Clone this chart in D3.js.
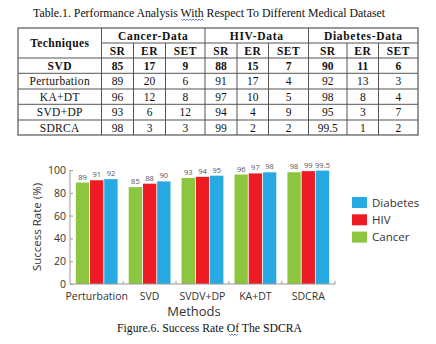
<!DOCTYPE html>
<html>
<head>
<meta charset="utf-8">
<script src="https://cdn.jsdelivr.net/npm/d3@7"></script>
<style>
  body { margin: 0; background: #fff; }
  svg { display: block; }
</style>
</head>
<body>
<div id="page"></div>
<script>
// table data
var techniques = ["SVD", "Perturbation", "KA+DT", "SVD+DP", "SDRCA"];
var datasets = ["Cancer-Data", "HIV-Data", "Diabetes-Data"];
var measures = ["SR", "ER", "SET"];
var cancerSR = [85, 89, 96, 93, 98];
var cancerER = [17, 20, 12, 6, 3];
var cancerSET = [9, 6, 8, 12, 3];
var hivSR = [88, 91, 97, 94, 99];
var hivER = [15, 17, 10, 4, 2];
var hivSET = [7, 4, 5, 9, 2];
var diabSR = [90, 92, 98, 95, 99.5];
var diabER = [11, 13, 8, 3, 1];
var diabSET = [6, 3, 4, 7, 2];

// chart data
var methods = ["Perturbation", "SVD", "SVDV+DP", "KA+DT", "SDCRA"];
var cancer = [89, 85, 93, 96, 98];
var hiv = [91, 88, 94, 97, 99];
var diabetes = [92, 90, 95, 98, 99.5];
var yTicks = [0, 20, 40, 60, 80, 100];

var W = 436, H = 344;
var svg = d3.select("#page").append("svg").attr("width", W).attr("height", H);
var serif = "Liberation Serif, Times New Roman, serif";
var sans = "Open Sans, Noto Sans, sans-serif";

// ---------- table ----------
svg.append("text")
  .attr("x", 33).attr("y", 17)
  .style("font-family", serif).attr("font-size", 12)
  .attr("textLength", 352).attr("lengthAdjust", "spacingAndGlyphs")
  .attr("fill", "#111")
  .text("Table.1. Performance Analysis With Respect To Different Medical Dataset");

// wavy underline (spell-check mark)
function wavy(xa, xb, yy) {
  var p = d3.path(); p.moveTo(xa, yy);
  for (var xx = xa, k = 0; xx < xb; xx += 1.5, k++) p.lineTo(xx + 1.5, yy + (k % 2 ? 0 : 1.5));
  return p.toString();
}
svg.append("path").attr("d", wavy(181, 203, 19)).attr("fill", "none")
  .attr("stroke", "#3a5bd9").attr("stroke-width", 0.8);

var colX = [18, 101.5, 133.5, 165.5, 205, 237, 268.5, 308.5, 347, 378.5, 418];
var rowY = [28, 43, 58, 73.3, 89, 104.3, 120, 135];
var tbl = svg.append("g");
var lineCol = "#555";

// outer box + rules
tbl.append("rect").attr("x", colX[0]).attr("y", rowY[0])
  .attr("width", colX[10] - colX[0]).attr("height", rowY[7] - rowY[0])
  .attr("fill", "none").attr("stroke", lineCol).attr("stroke-width", 1.2);
rowY.slice(1, 7).forEach(function (yy, i) {
  var xa = i === 0 ? colX[1] : colX[0];
  tbl.append("line").attr("x1", xa).attr("x2", colX[10]).attr("y1", yy).attr("y2", yy)
    .attr("stroke", lineCol).attr("stroke-width", 1);
});
colX.slice(1, 10).forEach(function (xx, i) {
  var c = i + 1;
  var ya = (c === 1 || c === 4 || c === 7) ? rowY[0] : rowY[1];
  tbl.append("line").attr("x1", xx).attr("x2", xx).attr("y1", ya).attr("y2", rowY[7])
    .attr("stroke", lineCol).attr("stroke-width", 1);
});

function cell(txt, xa, xb, ya, yb, bold, spacing) {
  var t = tbl.append("text")
    .attr("x", (xa + xb) / 2).attr("y", (ya + yb) / 2 + 4)
    .attr("text-anchor", "middle")
    .style("font-family", serif).attr("font-size", 11.5)
    .attr("font-weight", bold ? "bold" : "normal")
    .attr("fill", "#111")
    .text(txt);
  if (spacing) t.style("letter-spacing", spacing + "px");
}

cell("Techniques", colX[0], colX[1], rowY[0], rowY[2], true, 0.4);
datasets.forEach(function (d, i) {
  cell(d, colX[1 + i * 3], colX[4 + i * 3], rowY[0], rowY[1], true, 0.7);
  measures.forEach(function (m, j) {
    cell(m, colX[1 + i * 3 + j], colX[2 + i * 3 + j], rowY[1], rowY[2], true, 0.5);
  });
});

var cols = [cancerSR, cancerER, cancerSET, hivSR, hivER, hivSET, diabSR, diabER, diabSET];
techniques.forEach(function (t, r) {
  var bold = r === 0;
  cell(t, colX[0], colX[1], rowY[r + 2], rowY[r + 3], bold, bold ? 0.5 : 0.3);
  cols.forEach(function (col, c) {
    cell(col[r], colX[c + 1], colX[c + 2], rowY[r + 2], rowY[r + 3], bold, 0);
  });
});

// ---------- bar chart ----------
var x0 = 70, x1 = 335, yTop = 170, yBot = 284;
var series = [
  { name: "Cancer", values: cancer, color: "#8cc63f" },
  { name: "HIV", values: hiv, color: "#ed1c24" },
  { name: "Diabetes", values: diabetes, color: "#27aae1" }
];

var x = d3.scaleBand().domain(methods).range([x0, x1]).paddingInner(0.21).paddingOuter(0.11);
var xs = d3.scaleBand().domain(series.map(function (s) { return s.name; }))
  .range([0, x.bandwidth()]).paddingInner(0.06);
var y = d3.scaleLinear().domain([0, 100]).range([yBot, yTop]);

var chart = svg.append("g");

series.forEach(function (s) {
  var g = chart.append("g");
  g.selectAll("rect").data(methods).enter().append("rect")
    .attr("x", function (m) { return x(m) + xs(s.name); })
    .attr("y", function (m, i) { return y(s.values[i]); })
    .attr("width", xs.bandwidth())
    .attr("height", function (m, i) { return yBot - y(s.values[i]); })
    .attr("fill", s.color);
  g.selectAll("text").data(methods).enter().append("text")
    .attr("x", function (m) { return x(m) + xs(s.name) + xs.bandwidth() / 2; })
    .attr("y", function (m, i) { return y(s.values[i]) - 3; })
    .attr("text-anchor", "middle")
    .style("font-family", sans).attr("font-size", 7.5)
    .attr("fill", "#555")
    .text(function (m, i) { return s.values[i]; });
});

// y axis, ticks pointing inward
var yAxis = chart.append("g").attr("transform", "translate(" + x0 + ",0)")
  .call(d3.axisRight(y).tickValues(yTicks).tickSize(3).tickFormat(""));
yAxis.select(".domain").attr("stroke", "#999").attr("d", "M0," + yTop + "V" + yBot);
yAxis.selectAll(".tick line").attr("stroke", "#999");
chart.selectAll(".ylab").data(yTicks).enter().append("text")
  .attr("x", x0 - 4).attr("y", function (d) { return y(d) + 4; })
  .attr("text-anchor", "end")
  .style("font-family", sans).attr("font-size", 10.5).attr("fill", "#333")
  .text(function (d) { return d; });

// x axis with small upward ticks between groups
var xAxis = chart.append("g").attr("transform", "translate(0," + yBot + ")")
  .call(d3.axisBottom(x).tickSize(0).tickFormat(""));
xAxis.select(".domain").attr("stroke", "#999").attr("d", "M" + x0 + ",0H" + x1);
xAxis.selectAll(".tick").remove();
var bounds = methods.slice(1).map(function (m) { return x(m) - x.step() * x.paddingInner() / 2; });
bounds.push(x1);
xAxis.selectAll(".sep").data(bounds).enter().append("line")
  .attr("x1", function (d) { return d; }).attr("x2", function (d) { return d; })
  .attr("y1", 0).attr("y2", -3).attr("stroke", "#999");

chart.selectAll(".xlab").data(methods).enter().append("text")
  .attr("x", function (m) { return x(m) + x.bandwidth() / 2; })
  .attr("y", 300)
  .attr("text-anchor", "middle")
  .style("font-family", sans).attr("font-size", 10.5).attr("fill", "#333")
  .text(function (m) { return m; });

chart.append("text")
  .attr("x", 194).attr("y", 316).attr("text-anchor", "middle")
  .style("font-family", sans).attr("font-size", 13).attr("fill", "#333")
  .text("Methods");

chart.append("text")
  .attr("transform", "translate(41,227) rotate(-90)")
  .attr("text-anchor", "middle")
  .style("font-family", sans).attr("font-size", 11.5).attr("fill", "#333")
  .text("Success Rate (%)");

// legend, top entry first
var legend = chart.append("g").attr("transform", "translate(352,197)");
series.slice().reverse().forEach(function (s, i) {
  legend.append("rect").attr("x", 0).attr("y", i * 17.3)
    .attr("width", 15).attr("height", 11).attr("fill", s.color);
  legend.append("text").attr("x", 20).attr("y", i * 17.3 + 9.5)
    .style("font-family", sans).attr("font-size", 11.5).attr("fill", "#333")
    .text(s.name);
});

// caption
svg.append("text")
  .attr("x", 117).attr("y", 332)
  .style("font-family", serif).attr("font-size", 11.5)
  .attr("textLength", 185).attr("lengthAdjust", "spacingAndGlyphs")
  .attr("fill", "#111")
  .text("Figure.6. Success Rate Of The SDCRA");
svg.append("path").attr("d", wavy(229, 238, 334)).attr("fill", "none")
  .attr("stroke", "#3a5bd9").attr("stroke-width", 0.8);
</script>
</body>
</html>
